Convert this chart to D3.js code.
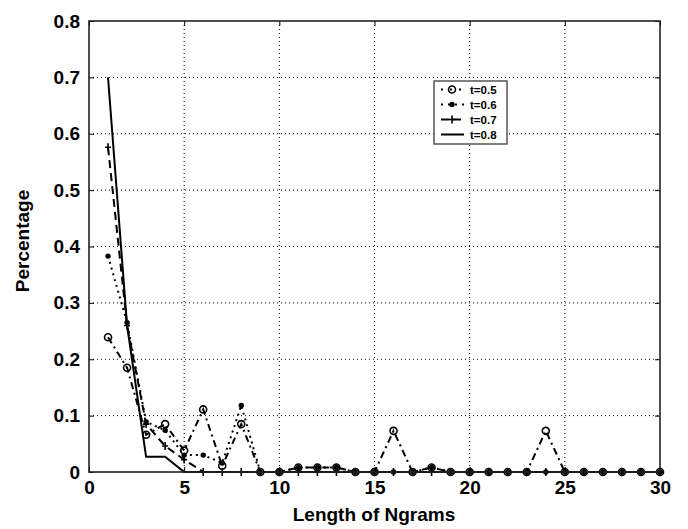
<!DOCTYPE html>
<html><head><meta charset="utf-8">
<script src="https://cdn.jsdelivr.net/npm/d3@7"></script>
<style>body{margin:0;background:#fff}svg{display:block}text{font-family:"Liberation Sans",Arial,sans-serif;font-weight:bold}</style>
</head><body><svg id="c" width="688" height="529"></svg>
<script>
const xs = d3.range(1, 31);
const t05 = [0.239,0.185,0.066,0.085,0.038,0.111,0.011,0.085,0,0, 0.008,0.008,0.008,0,0, 0.073,0,0.008,0,0, 0,0,0,0.073,0, 0,0,0,0,0];
const t06 = [0.383,0.265,0.089,0.074,0.030,0.030,0.016,0.118,0,0, 0.008,0.008,0.008,0,0, 0,0,0.008,0,0, 0,0,0,0,0, 0,0,0,0,0];
const t07 = [0.576,0.260,0.085,0.046,0.022,0,0,0,0,0, 0,0,0,0,0, 0,0,0,0,0, 0,0,0,0,0, 0,0,0,0,0];
const t08 = [0.700,0.260,0.027,0.027,0,0,0,0,0,0, 0,0,0,0,0, 0,0,0,0,0, 0,0,0,0,0, 0,0,0,0,0];
const seriesNames = ["t=0.5","t=0.6","t=0.7","t=0.8"];
const xTicks = [0,5,10,15,20,25,30];
const yTicks = [0,0.1,0.2,0.3,0.4,0.5,0.6,0.7,0.8];

const L=89,R=660,T=21,B=472;
const svg=d3.select("#c");
const x=d3.scaleLinear().domain([0,30]).range([L,R]);
const y=d3.scaleLinear().domain([0,0.8]).range([B,T]);

// grid
const g=svg.append("g");
g.selectAll(".gx").data(xTicks.slice(1,-1)).enter().append("line")
 .attr("x1",d=>x(d)).attr("x2",d=>x(d)).attr("y1",T).attr("y2",B)
 .attr("stroke","#000").attr("stroke-width",1).attr("stroke-dasharray","1,3");
g.selectAll(".gy").data(yTicks.slice(1,-1)).enter().append("line")
 .attr("y1",d=>y(d)).attr("y2",d=>y(d)).attr("x1",L).attr("x2",R)
 .attr("stroke","#000").attr("stroke-width",1).attr("stroke-dasharray","1,3");

// axes
const fmtY=d=>d===0?"0":d3.format(".1f")(d);
const ax=(sel)=>{sel.select(".domain").remove();sel.selectAll("text").style("font-size","19px").attr("fill","#000");sel.selectAll("line").attr("stroke","#000").attr("stroke-width",1);};
svg.append("g").attr("transform",`translate(0,${B})`).call(d3.axisBottom(x).tickValues(xTicks).tickSize(-5).tickPadding(9)).call(ax);
svg.append("g").attr("transform",`translate(0,${T})`).call(d3.axisTop(x).tickValues(xTicks).tickSize(-5).tickFormat("")).call(ax);
svg.append("g").attr("transform",`translate(${L},0)`).call(d3.axisLeft(y).tickValues(yTicks).tickSize(-5).tickPadding(9).tickFormat(fmtY)).call(ax);
svg.append("g").attr("transform",`translate(${R},0)`).call(d3.axisRight(y).tickValues(yTicks).tickSize(-5).tickFormat("")).call(ax);

// series
const data=[t05,t06,t07,t08];
const dashes=["7,4,2,4","2,4","8,5",null];
const line=d3.line().x((d,i)=>x(xs[i])).y(d=>y(d));
const order=[3,2,1,0];
order.forEach(k=>{
  svg.append("path").datum(data[k]).attr("d",line).attr("fill","none")
   .attr("stroke","#000").attr("stroke-width",2).attr("stroke-dasharray",dashes[k]);
});
function marker(sel,k,cx,cy){
  if(k===0) sel.append("circle").attr("cx",cx).attr("cy",cy).attr("r",3.5).attr("fill","none").attr("stroke","#000").attr("stroke-width",1.6);
  else if(k===1) sel.append("circle").attr("cx",cx).attr("cy",cy).attr("r",2.7).attr("fill","#000");
  else if(k===2) sel.append("path").attr("d",`M${cx-3},${cy}H${cx+3}M${cx},${cy-4}V${cy+4}`).attr("stroke","#000").attr("stroke-width",1.6);
}
const mg=svg.append("g");
order.forEach(k=>{ if(k<3) data[k].forEach((v,i)=>marker(mg,k,x(xs[i]),y(v))); });

// frame
svg.append("rect").attr("x",L).attr("y",T).attr("width",R-L).attr("height",B-T)
 .attr("fill","none").attr("stroke","#222").attr("stroke-width",1.6);

// legend
const lg=svg.append("g");
lg.append("rect").attr("x",434).attr("y",81).attr("width",73).attr("height",63)
 .attr("fill","#fff").attr("stroke","#555").attr("stroke-width",1.5);
const legDash=["2,7","2,5","8,4",null];
seriesNames.forEach((n,k)=>{
  const yy=89.5+k*15;
  lg.append("line").attr("x1",441).attr("x2",464).attr("y1",yy).attr("y2",yy)
   .attr("stroke","#000").attr("stroke-width",2).attr("stroke-dasharray",legDash[k]);
  marker(lg,k,452,yy);
  lg.append("text").attr("x",470).attr("y",yy+4).style("font-size","11.5px").text(n);
});

// titles
svg.append("text").attr("x",374).attr("y",521).attr("text-anchor","middle").style("font-size","19px").text("Length of Ngrams");
svg.append("text").attr("transform","translate(29,241) rotate(-90)").attr("text-anchor","middle").style("font-size","19px").text("Percentage");
</script></body></html>
